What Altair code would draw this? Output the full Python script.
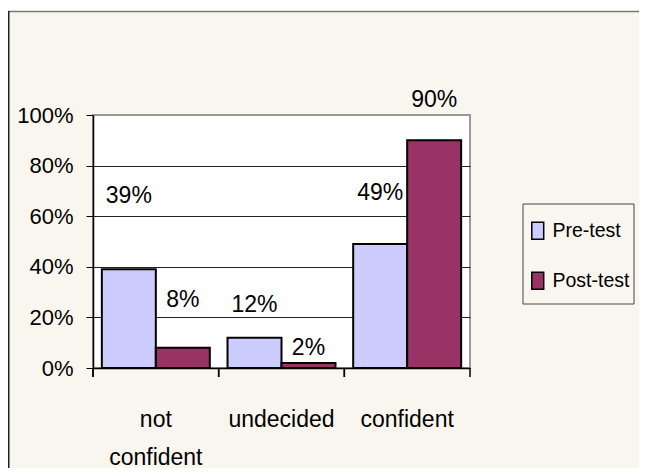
import altair as alt
import pandas as pd

categories = ["not confident", "undecided", "confident"]
series = ["Pre-test", "Post-test"]
pre_test = [0.39, 0.12, 0.49]
post_test = [0.08, 0.02, 0.90]
# vertical anchor (in value units) of each data label, as placed in the original
label_pos_pre = [0.68, 0.25, 0.69]
label_pos_post = [0.27, 0.08, 1.06]
colors = ["#ccccff", "#993366"]
y_ticks = [0, 0.2, 0.4, 0.6, 0.8, 1.0]

rows = []
for i, c in enumerate(categories):
    rows.append({"cat": c, "series": "Pre-test", "value": pre_test[i], "label_y": label_pos_pre[i]})
    rows.append({"cat": c, "series": "Post-test", "value": post_test[i], "label_y": label_pos_post[i]})
df = pd.DataFrame(rows)

FONT = "Liberation Sans, Arial"
W, H = 377, 253
PL, PT, PR, PB = 85, 107, 169, 100
BG = "#f8f6ee"

x_enc = alt.X(
    "cat:N", sort=categories,
    scale=alt.Scale(paddingInner=0, paddingOuter=0),
    axis=alt.Axis(
        title=None, labelAngle=0, ticks=False, tickSize=0, domainColor="black", domainWidth=1.5,
        labelFont=FONT, labelFontSize=23, labelColor="black", labelPadding=40,
        labelLineHeight=38, labelLimit=0,
        labelExpr="datum.label == 'not confident' ? ['not', 'confident'] : datum.label",
    ),
)
xoff = alt.XOffset("series:N", sort=series, scale=alt.Scale(paddingOuter=0.164, paddingInner=0))
y_enc = alt.Y(
    "value:Q",
    scale=alt.Scale(domain=[0, 1], nice=False),
    axis=alt.Axis(
        title=None, values=y_ticks, format="%", grid=True,
        gridColor={"condition": {"test": "datum.value >= 0.999", "value": "#999999"}, "value": "#222222"},
        gridWidth=1, tickSize=7, tickColor="black", domainColor="black", domainWidth=1.5,
        labelFont=FONT, labelFontSize=22, labelColor="black", labelPadding=13,
    ),
)

one = alt.Data(values=[{"k": 1}])
legend_box = alt.Chart(one).mark_rect(fill=BG, stroke="#444444", strokeWidth=1).encode(
    x=alt.value(430), x2=alt.value(541), y=alt.value(89), y2=alt.value(189))

bars = alt.Chart(df).mark_bar(stroke="black", strokeWidth=2).encode(
    x=x_enc,
    xOffset=xoff,
    y=y_enc,
    color=alt.Color(
        "series:N", sort=series,
        scale=alt.Scale(domain=series, range=colors),
        legend=alt.Legend(
            title=None, orient="none", legendX=428, legendY=99,
            symbolType="M-0.7,-1H0.7V1H-0.7Z", symbolSize=289,
            symbolStrokeColor="black", symbolStrokeWidth=1.5,
            labelFont=FONT, labelFontSize=19.5, labelColor="black",
            padding=7, rowPadding=26, labelOffset=5,
        ),
    ),
)

labels = alt.Chart(df).mark_text(font=FONT, fontSize=23, baseline="middle", color="black").encode(
    x=alt.X("cat:N", sort=categories),
    xOffset=alt.XOffset("series:N", sort=series),
    y=alt.Y("label_y:Q"),
    text=alt.Text("value:Q", format=".0%"),
)

cat_ticks = alt.Chart(df).mark_rule(color="black", strokeWidth=1.5).encode(
    x=alt.X("cat:N", sort=categories, bandPosition=0),
    y=alt.value(H), y2=alt.value(H + 9),
)

end_tick = alt.Chart(one).mark_rule(color="black", strokeWidth=1.5).encode(
    x=alt.value(W), y=alt.value(H), y2=alt.value(H + 9))
white_strip = alt.Chart(one).mark_rule(color="white", strokeWidth=3).encode(
    x=alt.value(-PL), x2=alt.value(W + PR), y=alt.value(-PT + 1.5))
top_line = alt.Chart(one).mark_rule(color="#777777", strokeWidth=1.5).encode(
    x=alt.value(-PL), x2=alt.value(W + PR), y=alt.value(-PT + 3.5))
left_line = alt.Chart(one).mark_rule(color="#222222", strokeWidth=2).encode(
    x=alt.value(-PL + 0.5), y=alt.value(-PT + 3), y2=alt.value(H + PB))

chart = alt.layer(legend_box, bars, labels, cat_ticks, end_tick, white_strip, top_line, left_line).properties(
    width=W, height=H,
    autosize="none",
    padding={"left": PL, "top": PT, "right": PR, "bottom": PB},
).configure(background=BG).configure_view(fill="white", stroke="#999999", strokeWidth=2)

chart.save("out.html", embed_options={"renderer": "svg", "actions": False})
